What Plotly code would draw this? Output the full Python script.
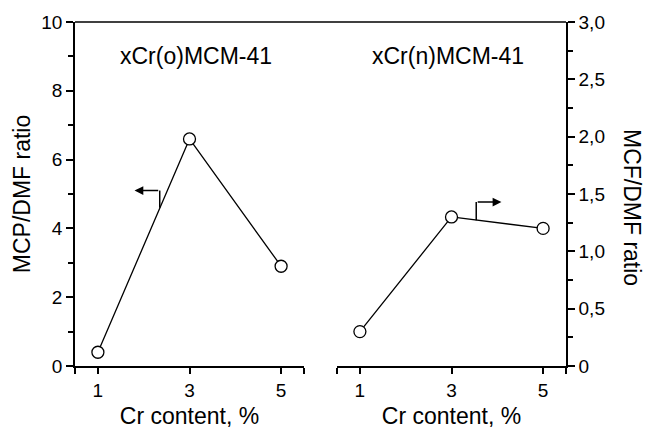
import plotly.graph_objects as go

cr_content = [1, 3, 5]
mcp_dmf_o = [0.4, 6.6, 2.9]
mcf_dmf_n = [0.3, 1.3, 1.2]
x_tick_vals = [1, 3, 5]
x_tick_text = ["1", "3", "5"]
left_y_ticks = [0, 2, 4, 6, 8, 10]
right_y_ticks = [0, 0.5, 1.0, 1.5, 2.0, 2.5, 3.0]
right_y_text = ["0", "0,5", "1,0", "1,5", "2,0", "2,5", "3,0"]

FONT = "Liberation Sans, Arial, sans-serif"
W, H = 647, 430
ml, mr, mt, mb = 75, 81, 22, 64
pw = W - ml - mr
ph = H - mt - mb

fig = go.Figure()
mk = dict(symbol="circle", size=12, color="white", line=dict(width=1.3, color="black"))
fig.add_trace(go.Scatter(x=cr_content, y=mcp_dmf_o, mode="lines+markers",
                         line=dict(color="black", width=1.3), marker=mk,
                         xaxis="x", yaxis="y", showlegend=False))
fig.add_trace(go.Scatter(x=cr_content, y=mcf_dmf_n, mode="lines+markers",
                         line=dict(color="black", width=1.3), marker=mk,
                         xaxis="x2", yaxis="y2", showlegend=False))

xcommon = dict(range=[0.5, 5.5], tickmode="array", tickvals=[0.5] + x_tick_vals + [5.5],
               ticktext=[""] + x_tick_text + [""], ticks="outside", ticklen=6, tickwidth=1.5,
               tickcolor="black", showline=True, linecolor="black", linewidth=1.5,
               showgrid=False, zeroline=False, automargin=False,
               tickfont=dict(family=FONT, size=19, color="black"),
               title=dict(text="Cr content, %", font=dict(family=FONT, size=23, color="black"), standoff=8))

fig.update_layout(
    width=W, height=H, margin=dict(l=ml, r=mr, t=mt, b=mb),
    plot_bgcolor="white", paper_bgcolor="white",
    xaxis=dict(domain=[0, (304 - ml) / pw], anchor="y", **xcommon),
    xaxis2=dict(domain=[(337 - ml) / pw, 1], anchor="y2", **xcommon),
    yaxis=dict(range=[0, 10], tickmode="array", tickvals=left_y_ticks, ticks="outside", ticklen=7,
               tickwidth=1.5, tickcolor="black", showline=True, linecolor="black", linewidth=1.5,
               showgrid=False, zeroline=False, anchor="x", automargin=False,
               minor=dict(tickvals=[1, 3, 5, 7, 9], ticks="outside", ticklen=5, tickcolor="black", tickwidth=1.5),
               tickfont=dict(family=FONT, size=19, color="black"),
               title=dict(text="MCP/DMF ratio", font=dict(family=FONT, size=23, color="black"), standoff=4)),
    yaxis2=dict(range=[0, 3], tickmode="array", tickvals=right_y_ticks, ticktext=right_y_text,
                ticks="outside", ticklen=7, tickwidth=1.5, tickcolor="black", showline=True,
                linecolor="black", linewidth=1.5, showgrid=False, zeroline=False,
                anchor="x2", side="right", automargin=False,
                minor=dict(tickvals=[0.25, 0.75, 1.25, 1.75, 2.25, 2.75], ticks="outside", ticklen=5,
                           tickcolor="black", tickwidth=1.5),
                tickfont=dict(family=FONT, size=19, color="black")),
)

# top frame line across both panels
fig.add_shape(type="line", xref="paper", yref="paper", x0=0, x1=1, y0=1, y1=1,
              line=dict(color="black", width=1.5))

# right axis title (reads top to bottom)
fig.add_annotation(text="MCF/DMF ratio", xref="paper", yref="paper", x=1 + 66 / pw, y=(366 - 207) / ph,
                   textangle=90, showarrow=False, font=dict(family=FONT, size=23, color="black"),
                   xanchor="center", yanchor="middle")

# panel labels
fig.add_annotation(text="xCr(o)MCM-41", xref="x", yref="y", x=3.15, y=9.0, showarrow=False,
                   font=dict(family=FONT, size=23, color="black"))
fig.add_annotation(text="xCr(n)MCM-41", xref="x2", yref="y2", x=2.93, y=2.7, showarrow=False,
                   font=dict(family=FONT, size=23, color="black"))

# left arrow (points left, to left axis)
fig.add_shape(type="line", xref="x", yref="y", x0=2.35, x1=2.35, y0=4.6, y1=5.1,
              line=dict(color="black", width=1.5))
fig.add_annotation(xref="x", yref="y", axref="x", ayref="y", x=1.80, y=5.1, ax=2.35, ay=5.1,
                   text="", showarrow=True, arrowhead=2, arrowsize=1.1, arrowwidth=1.6, arrowcolor="black")

# right arrow (points right, to right axis)
fig.add_shape(type="line", xref="x2", yref="y2", x0=3.54, x1=3.54, y0=1.27, y1=1.43,
              line=dict(color="black", width=1.5))
fig.add_annotation(xref="x2", yref="y2", axref="x2", ayref="y2", x=4.09, y=1.43, ax=3.54, ay=1.43,
                   text="", showarrow=True, arrowhead=2, arrowsize=1.1, arrowwidth=1.6, arrowcolor="black")

fig.write_html("out.html")
